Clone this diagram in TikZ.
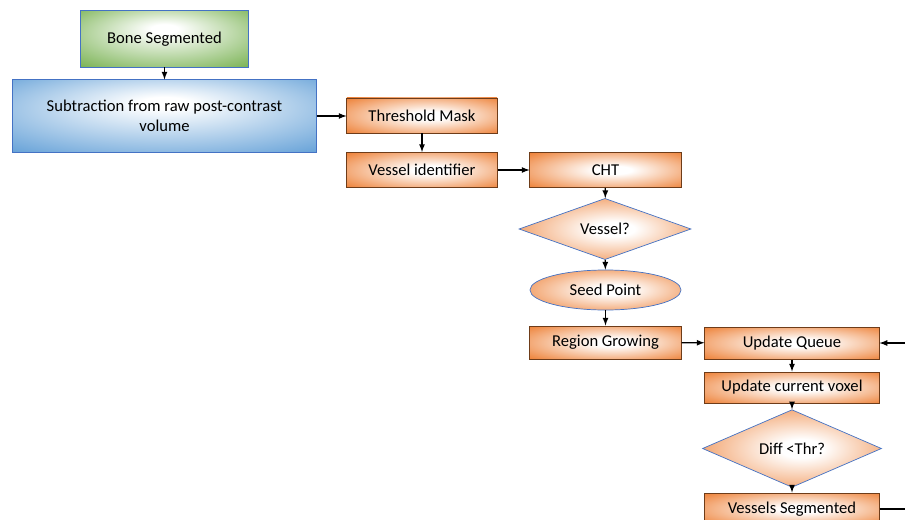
\documentclass[tikz,border=0pt]{standalone}
\usepackage{fontspec}
\setmainfont{Carlito}
\usepackage{tikz}
\usetikzlibrary{arrows,positioning,calc,shapes.geometric}

\definecolor{orangeC}{RGB}{237,125,49}
\definecolor{greenC}{RGB}{112,173,71}
\definecolor{blueC}{RGB}{91,155,213}
\definecolor{edgeblue}{RGB}{68,114,196}
\definecolor{edgebrown}{RGB}{110,60,25}

\pgfdeclareradialshading{orangefill}{\pgfpoint{3bp}{0bp}}{color(0bp)=(white);color(6bp)=(white);color(37bp)=(orangeC);color(50bp)=(orangeC)}
\pgfdeclareradialshading{greenfill}{\pgfpoint{0bp}{10bp}}{color(0bp)=(white);color(4bp)=(white);color(40bp)=(greenC);color(50bp)=(greenC)}
\pgfdeclareradialshading{bluefill}{\pgfpoint{0bp}{10bp}}{color(0bp)=(white);color(4bp)=(white);color(40bp)=(blueC);color(50bp)=(blueC)}

\tikzset{
  obox/.style={rectangle, draw=edgebrown, line width=0.7pt, shading=orangefill, inner sep=0pt, align=center},
  odiam/.style={diamond, draw=edgeblue, line width=0.5pt, shading=orangefill, inner sep=0pt, align=center},
  flow/.style={->, >=latex, line width=0.9pt}
}

\begin{document}
\begin{tikzpicture}[x=0.025cm, y=-0.025cm, font=\fontsize{11.8}{14}\selectfont]
  \useasboundingbox (0,0) rectangle (905,519);

  \node (bone) [rectangle, draw=edgeblue, line width=0.7pt, shading=greenfill, minimum width=4.175cm, minimum height=1.4cm] at (164.5,39) {Bone Segmented};
  \node (sub) [rectangle, draw=edgeblue, line width=0.7pt, shading=bluefill, align=center, minimum width=7.575cm, minimum height=1.8cm] at (164.5,116) {Subtraction from raw post-contrast\\volume};

  \node (thr) [obox, minimum width=3.75cm, minimum height=0.875cm] at (422,115.5) {Threshold Mask};
  \node (vid) [obox, minimum width=3.75cm, minimum height=0.875cm] at (422,170) {Vessel identifier};
  \node (cht) [obox, minimum width=3.775cm, minimum height=0.875cm] at (605.5,170) {CHT};

  \node (vessel) [odiam, minimum width=4.3cm, minimum height=1.45cm] at (605,229) {Vessel?};
  \node (seed) [ellipse, draw=edgeblue, line width=0.5pt, shading=orangefill, minimum width=3.775cm, minimum height=1.0cm, inner sep=0pt] at (605.5,290) {Seed Point};
  \node (grow) [obox, minimum width=3.775cm, minimum height=0.825cm] at (605.5,342.5) {Region Growing};

  \node (queue) [obox, minimum width=4.35cm, minimum height=0.8cm] at (792,343) {Update Queue};
  \node (voxel) [obox, minimum width=4.35cm, minimum height=0.775cm] at (792,387.5) {Update current voxel};
  \node (diff) [odiam, minimum width=4.475cm, minimum height=1.675cm] at (792,448.5) {Diff {<}Thr?};
  \node (segd) [obox, minimum width=4.35cm, minimum height=0.8cm] at (792,509) {Vessels Segmented};

  \coordinate (loopout) at (905,509);
  \coordinate (loopin) at (905,343);

  \draw [flow] (bone) -- (sub);
  \draw [flow] (sub.east) -- (thr.west |- sub.east);
  \draw [flow] (thr) -- (vid);
  \draw [flow] (vid) -- (cht);
  \draw [flow] (cht) -- (vessel);
  \draw [flow] (vessel) -- (seed);
  \draw [flow] (seed) -- (grow);
  \draw [flow] (grow) -- (queue);
  \draw [flow] (queue) -- (voxel);
  \draw [flow] (voxel) -- (diff);
  \draw [flow] (diff) -- (segd);
  \draw [line width=0.9pt] (segd.east) -- (loopout);
  \draw [flow] (loopin) -- (queue.east);
\end{tikzpicture}
\end{document}
